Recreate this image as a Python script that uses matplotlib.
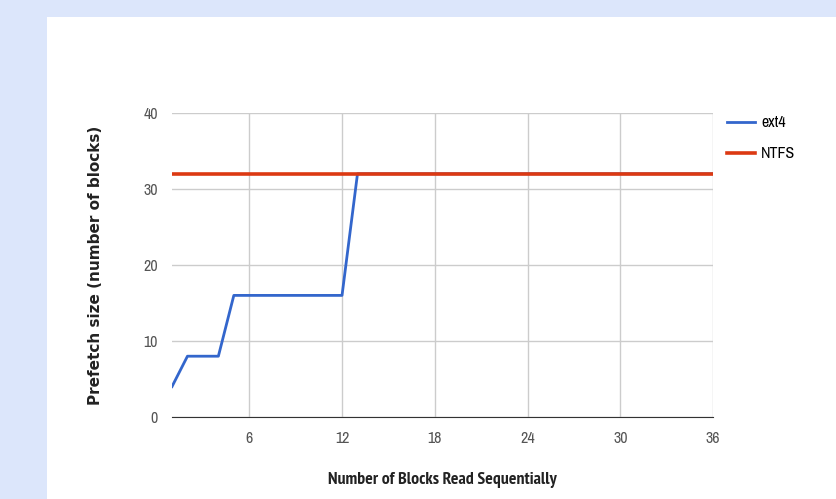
import matplotlib
matplotlib.use('Agg')
import matplotlib.pyplot as plt
from matplotlib import font_manager
from matplotlib.patches import Rectangle

# data
blocks = list(range(1, 37))
ext4 = [4, 8, 8, 8, 16, 16, 16, 16, 16, 16, 16, 16] + [32] * 24
ntfs = [32] * 36
xticks = [6, 12, 18, 24, 30, 36]
yticks = [0, 10, 20, 30, 40]

# pick narrow sans faces that are installed (one with a bold cut for the x title)
cands = ['Arial Narrow', 'Liberation Sans Narrow', 'Archivo Narrow',
         'PT Sans Narrow', 'Roboto Condensed', 'Pragati Narrow']
have = set(f.name for f in font_manager.fontManager.ttflist)
bold_have = set(f.name for f in font_manager.fontManager.ttflist
                if str(f.weight) in ('700', 'bold'))
narrow = [n for n in cands if n in have][:1] + ['DejaVu Sans']
narrow_b = [n for n in cands if n in bold_have][:1] + ['DejaVu Sans']

fig = plt.figure(figsize=(8.37, 4.99), dpi=100)
fig.patch.set_facecolor('#dce6fb')
# white panel
fig.patches.append(Rectangle((47 / 837, 0), 1, 1 - 17 / 499, transform=fig.transFigure,
                             facecolor='white', edgecolor='none', zorder=-10))

ax = fig.add_axes([172 / 837, 82 / 499, 541 / 837, 304 / 499])
ax.set_facecolor('none')
ax.plot(blocks, ext4, color='#3366cc', lw=2, label='ext4', zorder=3)
ax.plot(blocks, ntfs, color='#dc3912', lw=2.6, label='NTFS', zorder=4)

ax.set_xlim(1, 36)
ax.set_ylim(0, 40)
ax.set_xticks(xticks)
ax.set_yticks(yticks)
ax.grid(True, color='#cccccc', lw=1)
ax.set_axisbelow(True)
for s in ['top', 'right', 'left']:
    ax.spines[s].set_visible(False)
ax.spines['bottom'].set_color('#333333')
ax.tick_params(length=0, colors='#555555', labelsize=11.5, pad=10)
for lab in ax.get_xticklabels() + ax.get_yticklabels():
    lab.set_family(narrow)

ax.set_xlabel('Number of Blocks Read Sequentially', family=narrow_b, fontsize=12.8,
              fontweight='bold', color='#222222', labelpad=19)
ax.set_ylabel('Prefetch size (number of blocks)', fontsize=11, fontweight='bold',
              color='#222222', labelpad=29)

ax.legend(loc='upper left', bbox_to_anchor=(1.0, 1.04), frameon=False,
          prop={'family': narrow, 'size': 11.5}, handlelength=1.7, labelspacing=1.0,
          handletextpad=0.4)

fig.savefig('out.png', dpi=100)
